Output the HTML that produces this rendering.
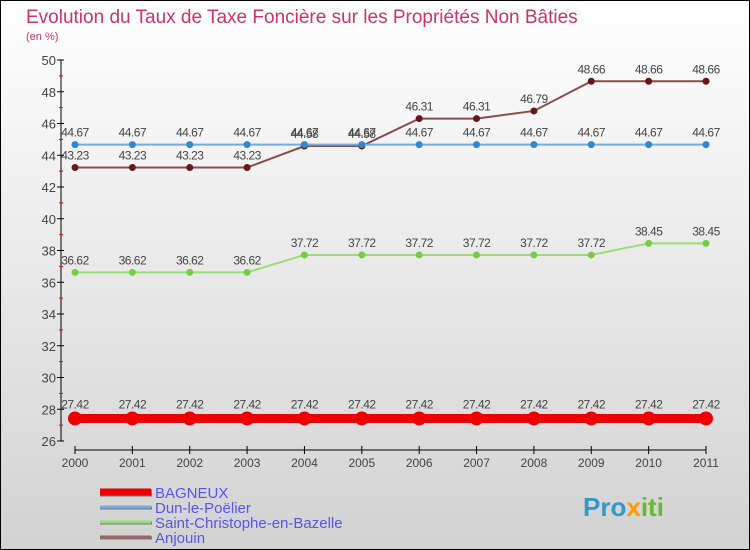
<!DOCTYPE html>
<html><head><meta charset="utf-8"><style>
body{margin:0;}
svg{display:block;font-family:"Liberation Sans",sans-serif;}
</style></head><body>
<svg id="c" width="750" height="550" xmlns="http://www.w3.org/2000/svg">
<defs><linearGradient id="bg" x1="0" y1="0" x2="0" y2="1"><stop offset="0" stop-color="#ffffff"/><stop offset="1" stop-color="#d2d2d2"/></linearGradient></defs>
<rect x="0.5" y="0.5" width="749" height="549" fill="url(#bg)" stroke="#000"/>
<text x="26" y="23" font-size="19" fill="#cc3366">Evolution du Taux de Taxe Foncière sur les Propriétés Non Bâties</text>
<text x="26" y="40" font-size="11" fill="#cc3366">(en %)</text>
<g id="axes"></g>
<g id="series"></g>
<g id="legend"></g>
<text x="583" y="516" font-size="26" font-weight="bold" fill="#3399cc">Pro<tspan fill="#ff9900">x</tspan><tspan fill="#66bb33">iti</tspan></text>
</svg>
<script>
const years=["2000","2001","2002","2003","2004","2005","2006","2007","2008","2009","2010","2011"];
const yTicks=[26,28,30,32,34,36,38,40,42,44,46,48,50];
const bagneux=[27.42,27.42,27.42,27.42,27.42,27.42,27.42,27.42,27.42,27.42,27.42,27.42];
const dun=[44.67,44.67,44.67,44.67,44.67,44.67,44.67,44.67,44.67,44.67,44.67,44.67];
const saint=[36.62,36.62,36.62,36.62,37.72,37.72,37.72,37.72,37.72,37.72,38.45,38.45];
const anjouin=[43.23,43.23,43.23,43.23,44.58,44.58,46.31,46.31,46.79,48.66,48.66,48.66];
const seriesNames=["BAGNEUX","Dun-le-Poëlier","Saint-Christophe-en-Bazelle","Anjouin"];
const NS="http://www.w3.org/2000/svg";
const xS=i=>75+i*(706-75)/(years.length-1);
const yS=v=>441-(v-26)*(381/24);
function mk(tag,attrs,parent){const e=document.createElementNS(NS,tag);for(const k in attrs)e.setAttribute(k,attrs[k]);parent.appendChild(e);return e;}
const ax=document.getElementById('axes');
let a=mk('line',{x1:61,y1:60,x2:61,y2:441,stroke:'#000'},ax);

yTicks.forEach((t,i)=>{
 const y=yS(t);
 mk('line',{x1:57,y1:y,x2:64,y2:y,stroke:'#000'},ax);
 if(i<yTicks.length-1){mk('line',{x1:59,y1:(y+yS(t+2))/2,x2:63,y2:(y+yS(t+2))/2,stroke:'#e00'},ax);}
 const tx=mk('text',{x:56,y:y+5,'font-size':13,'text-anchor':'end',fill:'#444'},ax);tx.textContent=t;
 
 
});
a=mk('line',{x1:75,y1:450,x2:706,y2:450,stroke:'#000'},ax);

years.forEach((yr,i)=>{
 const x=xS(i);
 mk('line',{x1:x,y1:446,x2:x,y2:454,stroke:'#000'},ax);
 const tx=mk('text',{x:x,y:467,'font-size':12,'text-anchor':'middle',fill:'#444'},ax);tx.textContent=yr;
 
 
});
const sg=document.getElementById('series');
function drawSeries(vals,name,lc,pc,lw,r,labOff){
 const g=mk('g',{},sg);
 
 
 mk('polyline',{points:vals.map((v,i)=>xS(i)+','+yS(v)).join(' '),fill:'none',stroke:lc,'stroke-width':lw},g);
 vals.forEach((v,i)=>{
  const c=mk('circle',{cx:xS(i),cy:yS(v),r:r,fill:pc},g);
  
  
  const t=mk('text',{x:xS(i),y:yS(v)+labOff,'font-size':12,'text-anchor':'middle',fill:'#444','letter-spacing':'-0.5'},g);
  t.textContent=v.toFixed(2);
  
  
 });
}
drawSeries(saint,'saint-christophe','#99dd77','#77cc44',2,3.5,-8);
drawSeries(anjouin,'anjouin','#8b4c4c','#661818',2,3.5,-8);
drawSeries(dun,'dun-le-poelier','#77aadd','#3388cc',2,3.5,-8);
drawSeries(bagneux,'bagneux','#ee0000','#ee0000',9,7,-10);
const lg=document.getElementById('legend');
const lcol=['#ee0000','#77aadd','#99dd77','#996666'];const lw=[7,3,3,3];
seriesNames.forEach((n,i)=>{
 const y=492+i*15;
 const g=mk('g',{},lg);
 
 
 mk('line',{x1:100,y1:y+1,x2:152,y2:y+1,stroke:'#777','stroke-width':lw[i]},g);
 mk('line',{x1:100,y1:y,x2:151,y2:y,stroke:lcol[i],'stroke-width':lw[i]},g);
 const t=mk('text',{x:155,y:y+6,'font-size':15,fill:'#5555ee'},g);t.textContent=n;
});
</script>
</body></html>
